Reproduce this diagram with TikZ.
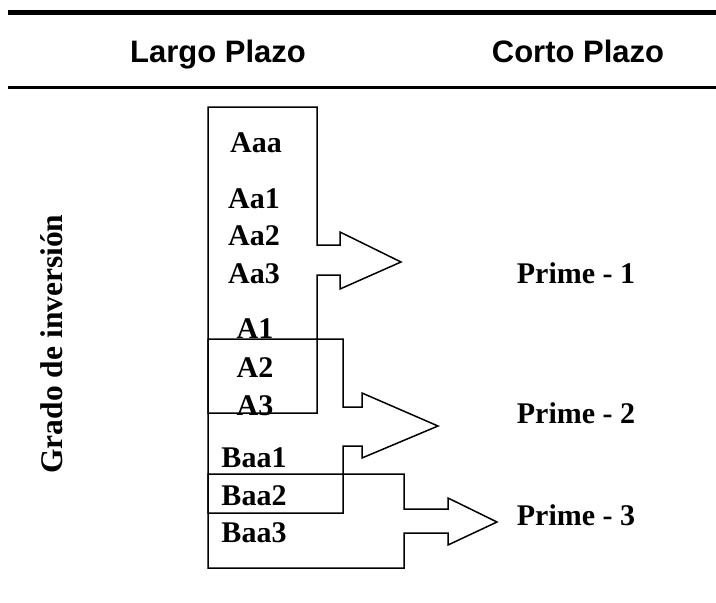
\documentclass[tikz,border=0pt]{standalone}
\usepackage{fontspec}
\setmainfont{Liberation Serif}
\newfontfamily\headfont{Liberation Sans}
\usepackage{tikz}

\tikzset{
	lbl/.style={font=\fontsize{30}{36}\selectfont\bfseries, inner sep=0pt, anchor=base},
	head/.style={font=\headfont\fontsize{31}{37}\selectfont\bfseries, inner sep=0pt, anchor=base},
	outline/.style={line width=1.5pt, line join=miter}
}

\begin{document}
\begin{tikzpicture}[x=1pt, y=-1pt]
	\useasboundingbox (0,0) rectangle (716,603);

	% Header rules
	\draw[line width=5pt] (8,12.5) -- (716,12.5);
	\draw[line width=3.5pt] (8,87.5) -- (716,87.5);
	\node[head] (largo) at (218,62) {Largo Plazo};
	\node[head] (corto) at (578,62) {Corto Plazo};

	% Side label
	\node[lbl, rotate=90, font=\fontsize{31.5}{37}\selectfont\bfseries] (grado) at (62,344) {Grado de inversi\'on};

	% Box Aaa - Aa3 with arrow
	\draw[outline] (208,107) -- (317,107) -- (317,245) -- (340,245) -- (340,232) -- (401,262)
		-- (340,289) -- (340,275) -- (317,275) -- (317,413) -- (208,413) -- cycle;
	% Box A1 - A3 with arrow
	\draw[outline] (208,339) -- (343,339) -- (343,407) -- (362,407) -- (362,393) -- (438,426)
		-- (362,458) -- (362,446) -- (343,446) -- (343,513) -- (208,513) -- cycle;
	% Box Baa1 - Baa3 with arrow
	\draw[outline] (208,474) -- (404,474) -- (404,509) -- (448,509) -- (448,498) -- (497,522)
		-- (448,545) -- (448,533) -- (404,533) -- (404,568) -- (208,568) -- cycle;

	% Ratings
	\node[lbl] (aaa) at (256,152) {Aaa};
	\node[lbl] (aa1) at (254,208) {Aa1};
	\node[lbl] (aa2) at (254,245) {Aa2};
	\node[lbl] (aa3) at (254,283) {Aa3};
	\node[lbl] (a1) at (255,338) {A1};
	\node[lbl] (a2) at (255,377) {A2};
	\node[lbl] (a3) at (255,415) {A3};
	\node[lbl] (baa1) at (254,467) {Baa1};
	\node[lbl] (baa2) at (254,505) {Baa2};
	\node[lbl] (baa3) at (254,542) {Baa3};

	% Short term
	\node[lbl] (prime1) at (576,283) {Prime - 1};
	\node[lbl] (prime2) at (576,423) {Prime - 2};
	\node[lbl] (prime3) at (576,525) {Prime - 3};
\end{tikzpicture}
\end{document}
